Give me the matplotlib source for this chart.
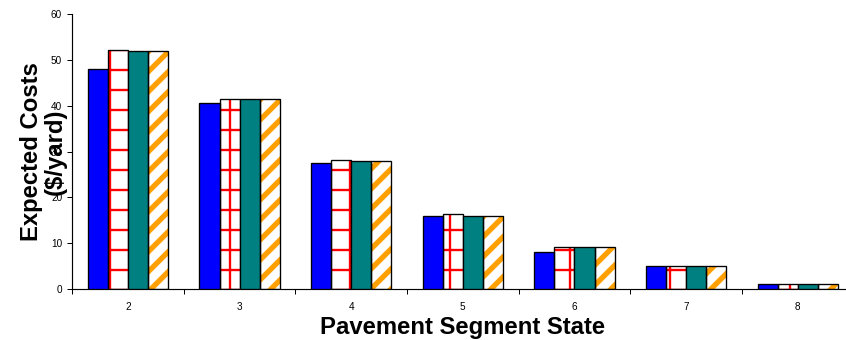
import numpy as np
import matplotlib
matplotlib.use("Agg")
import matplotlib.pyplot as plt

plt.rcParams['font.family'] = ['Liberation Sans', 'DejaVu Sans']

# Expected costs per segment state, one list per policy
states = ['2', '3', '4', '5', '6', '7', '8']
series_a = [48.0, 40.5, 27.6, 16.0, 8.1, 5.0, 1.1]
series_b = [52.1, 41.5, 28.1, 16.4, 9.2, 5.0, 1.1]
series_c = [52.0, 41.4, 28.0, 16.0, 9.2, 5.0, 1.1]
series_d = [52.0, 41.4, 28.0, 16.0, 9.2, 5.0, 1.1]

fig = plt.figure(figsize=(846 / 120, 340 / 120), dpi=120)
# right edge runs a little past the figure, like the original layout
ax = fig.add_axes([72.2 / 846, 51 / 340, 781.3 / 846, 275 / 340])

x = np.arange(len(states))
w = 0.18


def hatched_bars(xs, vals, hatch_color, hatch, lw):
    with plt.rc_context({'hatch.linewidth': lw}):
        bars = ax.bar(xs, vals, w, color='white', edgecolor=hatch_color,
                      hatch=hatch, linewidth=0, zorder=2)
    for b in bars:
        if hasattr(b, 'set_hatch_linewidth'):
            b.set_hatch_linewidth(lw)
    ax.bar(xs, vals, w, fill=False, edgecolor='black', linewidth=0.8, zorder=3)


ax.bar(x - 1.5 * w, series_a, w, color='#0000FF', edgecolor='black',
       linewidth=0.8, zorder=3)
hatched_bars(x - 0.5 * w, series_b, '#FF0000', '+', 1.4)
ax.bar(x + 0.5 * w, series_c, w, color='#008080', edgecolor='black',
       linewidth=0.8, zorder=3)
hatched_bars(x + 1.5 * w, series_d, '#FFA000', '//', 3.2)

ax.set_xlim(-0.5, 6.5)
ax.set_ylim(0, 60)
ax.set_yticks(range(0, 61, 10))
ax.set_xticks(x)
ax.set_xticklabels(states)
ax.set_xticks(np.arange(-0.5, 6.6, 1), minor=True)
ax.tick_params(axis='x', which='major', length=0, pad=8, labelsize=6)
ax.tick_params(axis='x', which='minor', length=3, width=0.6, direction='out')
ax.tick_params(axis='y', length=3, width=0.6, pad=3, labelsize=6)

for side in ['top', 'right']:
    ax.spines[side].set_visible(False)
for side in ['left', 'bottom']:
    ax.spines[side].set_linewidth(0.7)

ax.set_xlabel('Pavement Segment State', fontsize=14.3, fontweight='bold',
              labelpad=2)
ax.set_ylabel('Expected Costs\n($/yard)', fontsize=14.3, fontweight='bold',
              va='center', linespacing=1.05)
ax.yaxis.set_label_coords((43 - 72.2) / 781.3, 0.5)

fig.savefig('out.png', dpi=120)
